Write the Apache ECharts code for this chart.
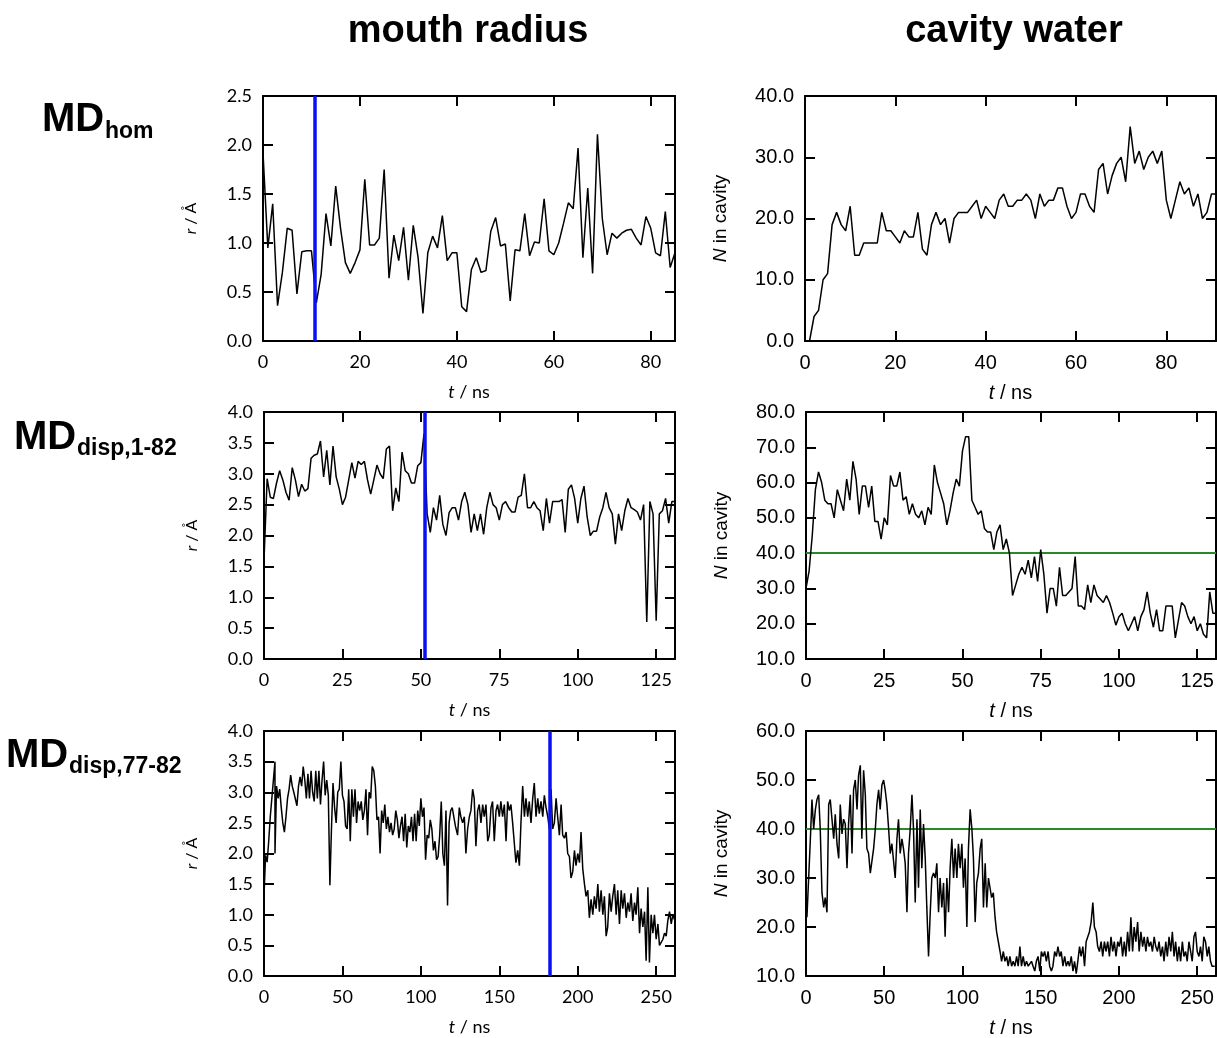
<!DOCTYPE html>
<html>
<head>
<meta charset="utf-8">
<script src="https://cdn.jsdelivr.net/npm/echarts@6/dist/echarts.min.js"></script>
<style>
  html, body { margin: 0; padding: 0; background: #fff; }
  #chart { width: 1217px; height: 1038px; }
</style>
</head>
<body>
<div id="chart"></div>
<script>
// ---------- data ----------
// MD_hom, mouth radius r (Å), one frame per ns starting at t = 0
const homRadius = [1.92,0.95,1.4,0.36,0.7,1.15,1.13,0.48,0.91,0.92,
  0.92,0.39,0.68,1.3,0.97,1.58,1.15,0.8,0.69,0.8,
  0.93,1.65,0.98,0.98,1.05,1.75,0.64,1.08,0.82,1.16,
  0.62,1.18,0.85,0.28,0.9,1.07,0.95,1.28,0.82,0.9,
  0.9,0.35,0.3,0.73,0.85,0.7,0.72,1.12,1.26,0.97,
  0.99,0.41,0.93,0.92,1.3,0.87,1.01,1.0,1.45,0.92,
  0.88,1.0,1.2,1.41,1.35,1.97,0.85,1.56,0.69,2.11,
  1.25,0.88,1.1,1.05,1.1,1.13,1.14,1.05,0.98,1.27,
  1.15,0.9,0.87,1.32,0.75,0.9];
const homRadiusStart = 0;

// MD_hom, water molecules in cavity, one frame per ns starting at t = 1
const homWater = [0,4,5,10,11,19,21,19,18,22,
  14,14,16,16,16,16,21,18,18,17,
  16,18,17,17,21,15,14,19,21,19,
  20,16,20,21,21,21,22,23,20,22,
  21,20,23,24,22,22,23,23,24,23,
  20,24,22,23,23,25,25,22,20,21,
  24,24,22,21,28,29,24,27,29,30,
  26,35,29,31,28,30,31,29,31,23,
  20,23,26,24,25,22,24,20,21,24,24];
const homWaterStart = 1;

// MD_disp,1-82, mouth radius, one frame per ns starting at t = 0
const disp182Radius = [1.6,2.92,2.62,2.6,2.85,3.05,2.9,2.7,2.57,3.1,
  2.9,2.63,2.83,2.72,2.76,3.25,3.3,3.32,3.53,2.95,
  3.38,2.82,3.45,2.95,2.75,2.5,2.62,2.9,3.18,2.93,
  3.2,3.15,3.2,2.9,2.67,2.9,3.14,3.0,2.92,3.4,
  3.45,2.4,2.77,2.55,3.35,3.05,3.0,2.85,2.85,3.13,
  3.18,3.65,2.35,2.05,2.45,2.25,2.65,2.18,2.0,2.37,
  2.45,2.45,2.25,2.55,2.7,2.5,2.05,2.35,2.08,2.35,
  2.02,2.45,2.7,2.5,2.45,2.25,2.5,2.55,2.45,2.38,
  2.38,2.62,2.65,3.0,2.45,2.45,2.55,2.45,2.4,2.08,
  2.6,2.2,2.55,2.55,2.55,2.58,2.05,2.75,2.82,2.6,
  2.2,2.6,2.8,2.3,2.0,2.07,2.07,2.3,2.45,2.7,
  2.45,2.35,1.86,2.35,2.08,2.4,2.6,2.45,2.42,2.38,
  2.25,2.5,0.6,2.55,2.35,0.62,2.35,2.4,2.6,2.2,
  2.55,2.55];
const disp182RadiusStart = 0;

// MD_disp,1-82, water molecules in cavity, one frame per ns starting at t = 0
const disp182Water = [30,35,45,58,63,60,55,54,54,50,
  58,55,52,61,55,66,61,51,59,59,
  53,59,49,49,44,50,48,62,59,59,
  63,55,56,51,54,51,50,52,48,53,
  51,65,60,57,54,48,52,57,61,59,
  69,73,73,55,53,51,52,47,46,46,
  41,46,48,41,44,40,28,31,34,36,
  34,38,33,39,32,41,34,23,30,30,
  25,36,28,28,29,30,39,25,25,24,
  31,26,31,28,27,26,28,26,23,19.6,
  22,23,20,18,20,22,18,22,24,29,
  23,19,24,18,18,25,25,25,16,21,
  26,25,22,20,22,18,20,17,16,29,
  23,23];
const disp182WaterStart = 0;

// MD_disp,77-82, mouth radius as [t (ns), r (Å)]
const disp7782Radius = [[0,1.3],[1,1.97],[2,1.86],[3,2.2],[4,2.6],[5,2.9],[6,3.2],[7,3.5],[7,2.0],[8,3.1],[9,2.9],
  [10,3.05],[11,2.75],[12,2.5],[13,2.35],[14,2.6],[15,2.9],[16,3.05],[17,3.28],[18,3.1],[19,3.0],
  [20,3.0],[21,2.78],[22,3.1],[23,3.25],[24,3.1],[25,3.42],[26,3.2],[27,2.9],[28,3.3],[29,2.9],
  [30,3.35],[31,3.0],[32,2.85],[33,3.35],[34,2.9],[35,3.35],[36,2.8],[37,3.2],[38,3.5],[39,2.95],
  [40,3.2],[41,2.95],[42,1.48],[43,2.4],[44,3.15],[45,2.75],[46,2.5],[47,3.0],[48,3.05],[49,3.5],
  [50,2.95],[51,2.85],[52,2.45],[53,2.4],[54,3.05],[55,2.2],[56,3.05],[57,2.6],[58,3.05],[59,2.5],
  [60,2.85],[61,2.7],[62,2.85],[63,2.55],[64,2.7],[65,3.05],[66,2.3],[67,3.0],[68,2.9],[69,3.42],
  [70,3.35],[71,3.1],[72,2.55],[73,2.6],[74,2.0],[75,2.7],[76,2.5],[77,2.8],[78,2.4],[79,2.6],
  [80,2.35],[81,2.5],[82,2.3],[83,2.4],[84,2.7],[85,2.55],[86,2.25],[87,2.45],[88,2.6],[89,2.2],
  [90,2.65],[91,2.1],[92,2.45],[93,2.35],[94,2.6],[95,2.2],[96,2.65],[97,2.2],[98,2.7],[99,2.45],
  [100,2.9],[101,2.6],[102,2.75],[103,1.9],[104,2.3],[105,2.25],[106,2.55],[107,2.4],[108,2.05],[109,2.2],
  [110,1.9],[111,1.95],[112,2.3],[113,2.85],[114,2.0],[115,1.8],[116,2.7],[117,1.15],[118,2.5],[119,2.7],
  [120,2.75],[122,2.45],[123.4,2.3],[124.5,2.75],[125.5,2.6],[126.6,2.5],[127.7,2.6],[128.7,2.0],[129.8,2.4],
  [130.9,2.6],[131.9,2.7],[133,3.05],[134,2.9],[135.1,2.12],[136.2,2.7],[137.2,2.8],[138.3,2.5],[139.4,2.8],
  [140.4,2.6],[141.5,2.8],[142.6,2.2],[143.6,2.3],[144.7,2.75],[145.7,2.85],[146.8,2.2],[147.9,2.7],[148.9,2.8],
  [150,2.6],[151,2.85],[152.1,2.6],[153.2,2.8],[154.3,2.2],[155.3,2.85],[156.4,2.7],[157.4,2.8],[158.5,2.5],
  [159.6,2.5],[160.6,1.85],[161.7,2.05],[162.8,1.8],[163.8,2.5],[164.9,3.1],[166,2.6],[167,2.9],[168.1,2.6],
  [169.1,2.85],[170.2,2.5],[171.3,2.9],[172.3,3.15],[173.4,2.6],[174.5,2.9],[175.5,2.65],[176.6,2.85],[177.7,2.6],
  [178.7,2.95],[179.8,2.75],[180.9,2.6],[181.9,2.4],[183,3.05],[184,2.4],[185.1,2.5],[186.2,2.9],[187.2,2.6],
  [188.3,2.3],[189.4,2.8],[190.4,2.3],[191.5,2.25],[192.6,2.35],[193.6,2.0],[194.7,1.95],[195.7,1.6],[196.8,1.7],
  [197.9,2.05],[198.9,1.8],[200,2.0],[201.1,1.85],[202.1,2.35],[203.2,1.75],[204.3,1.5],[205.3,1.3],[206.4,1.4],
  [207.4,0.95],[208.5,1.25],[209.6,1.0],[210.6,1.3],[211.7,1.1],[212.8,1.5],[213.8,1.05],[214.9,1.4],[216,1.0],
  [217,1.3],[218.1,0.65],[219.1,0.8],[220.2,1.35],[221.3,1.05],[222.3,1.3],[223.4,1.5],[224.5,1.0],[225.5,1.4],
  [226.6,0.85],[227.7,1.4],[228.7,1.1],[229.8,1.35],[230.9,0.95],[231.9,1.2],[233,1.05],[234,1.35],[235.1,0.9],
  [236.2,1.2],[237.2,1.0],[238.3,1.45],[239.4,0.7],[240.4,1.1],[241.5,0.8],[242.6,1.05],[243.6,0.25],[244.7,1.45],
  [245.7,0.22],[246.8,1.0],[247.9,0.7],[248.9,1.0],[250,0.6],[251.1,0.85],[252.1,0.5],[253.2,0.5],[254.3,0.6],
  [255.3,0.7],[256.4,0.65],[257.4,0.9],[258.5,1.05],[259.6,0.85],[260.6,1.0],[262,0.9]];

// MD_disp,77-82, water molecules in cavity as [t (ns), N]
const disp7782Water = [[0,25],[0.6,22],[1.7,22],[2.8,38],[3.8,46],[4.9,40],[6,44],[7,46],[8.1,47],[9.1,40],
  [10.2,27],[11.3,24],[12.3,26],[13.4,23],[14.5,45],[15.5,46],[16.6,46],[17.7,38],[18.7,43],[19.8,37],
  [20.9,34],[21.9,45],[23,39],[24,42],[25.1,41],[26.2,32],[27.2,41],[28.3,47],[29.4,35],[30.4,48],
  [31.5,50],[32.6,44],[33.6,51],[34.7,53],[35.7,38],[36.8,52],[37.9,47],[38.9,36],[40,35],[41.1,31],
  [42.1,31],[43.2,36],[44.3,40],[45.3,45],[46.4,48],[47.4,44],[48.5,49],[49.6,50],[50.6,48],[51.7,45],
  [52.8,40],[53.8,35],[54.9,37],[56,37],[57,30],[58.1,38],[59.1,42],[60.2,35],[61.3,38],[62.3,36],
  [63.4,33],[64.5,23],[65.5,35],[66.6,40],[67.7,47],[68.7,40],[69.8,25],[70.9,42],[71.9,28],[73,44],
  [74,32],[75.1,41],[76.2,34],[77.2,24],[78.3,14],[79.4,23],[80.4,30],[81.5,31],[82.6,30],[83.6,33],
  [84.7,23],[85.7,30],[86.8,24],[87.9,29],[88.9,18],[90,30],[91.1,23],[92.1,32],[93.2,38],[94.3,30],
  [95.3,36],[96.4,30],[97.4,37],[98.5,32],[99.6,37],[100.6,28],[101.7,34],[102.8,20],[103.8,36],[104.9,44],
  [106,40],[107,34],[108.1,21],[109.1,29],[110.2,31],[111.3,36],[112.3,38],[113.4,24],[114.5,33],[115.5,24],
  [116.6,30],[117.6,30],[118.6,26],[119.7,27],[120.8,22],[121.8,19],[122.9,17],[124,15],[125,13],[126.1,15],
  [127.1,13],[128.2,14],[129.2,12],[130.3,14],[131.4,12],[132.4,13],[133.5,12],[134.6,14],[135.6,12],[136.7,16],
  [137.7,12],[138.8,14],[139.8,12],[140.9,13],[142,12],[143,12],[144.1,13],[145.1,12],[146.2,11],[147.2,13],
  [148.3,14],[149.4,11],[150.4,15],[151.5,14],[152.5,15],[153.6,13],[154.7,15],[155.7,12],[156.8,11],[157.8,12],
  [158.9,15],[160,14],[161,16],[162.1,14],[163.1,15],[164.2,12],[165.3,14],[166.3,12],[167.4,13],[168.4,12],
  [169.5,14],[170.6,11],[171.6,13],[172.7,10.5],[173.7,13],[174.8,16],[175.8,14],[176.9,16],[178,12],[179,17],
  [180.1,17],[181.1,19],[182.2,21],[183.3,25],[184.3,20],[185.4,19],[186.4,16],[187.5,15],[188.6,17],[189.6,14],
  [190.7,17],[191.7,15],[192.8,17],[193.9,14],[194.9,18],[196,15],[197,17],[198.1,14],[199.2,17],[200.2,16],
  [201.3,18],[202.3,14],[203.4,17],[204.4,14],[205.5,19],[206.6,15],[207.6,22],[208.7,15],[209.7,20],[210.8,17],
  [211.9,21],[212.9,15],[214,19],[215.1,16],[216.1,18],[217.2,15],[218.2,18],[219.3,16],[220.3,17],[221.4,15],
  [222.5,18],[223.5,16],[224.6,15],[225.6,17],[226.7,14],[227.8,16],[228.8,13],[229.9,17],[230.9,14],[232,18],
  [233.1,15],[234.1,19],[235.2,14],[236.2,17],[237.3,13],[238.3,16],[239.4,13],[240.5,17],[241.5,14],[242.6,15],
  [243.6,13],[244.7,17],[245.8,15],[246.8,13],[247.9,18],[248.9,19],[250,15],[251.1,14],[252.1,16],[253.2,13],
  [254.2,18],[255.3,17],[256.4,14],[257.4,16],[258.5,13],[259.5,12],[261.2,12]];

// marked time points (ns) and the water threshold
const markedTimes = { hom: 10.6, disp182: 51.1, disp7782: 181.9 };
const waterThreshold = 40;

// column headings and row labels
const columnTitles = ['mouth radius', 'cavity water'];
const rowLabels = [['MD', 'hom'], ['MD', 'disp,1-82'], ['MD', 'disp,77-82']];

// ---------- layout ----------
const LEFT_FONT = 'Lato, "Open Sans", sans-serif';
const RIGHT_FONT = '"Liberation Sans", Arial, sans-serif';

const panels = [
  { grid: { left: 263, top: 96, width: 412, height: 245 }, font: LEFT_FONT, fs: 18, nfs: 16,
    x: [0, 85, 20], y: [0, 2.5, 0.5], yName: '{i|r} / Å', yGap: 64,
    data: homRadius.map((v, i) => [homRadiusStart + i, v]), vline: markedTimes.hom },
  { grid: { left: 805, top: 96, width: 411, height: 245 }, font: RIGHT_FONT, fs: 20, nfs: 19,
    x: [0, 91, 20], y: [0, 40, 10], yName: '{i|N} in cavity', yGap: 75,
    data: homWater.map((v, i) => [homWaterStart + i, v]) },
  { grid: { left: 264, top: 412, width: 411, height: 247 }, font: LEFT_FONT, fs: 18, nfs: 16,
    x: [0, 131, 25], y: [0, 4, 0.5], yName: '{i|r} / Å', yGap: 64,
    data: disp182Radius.map((v, i) => [disp182RadiusStart + i, v]), vline: markedTimes.disp182 },
  { grid: { left: 806, top: 412, width: 410, height: 247 }, font: RIGHT_FONT, fs: 20, nfs: 19,
    x: [0, 131, 25], y: [10, 80, 10], yName: '{i|N} in cavity', yGap: 75,
    data: disp182Water.map((v, i) => [disp182WaterStart + i, v]), hline: waterThreshold },
  { grid: { left: 264, top: 731, width: 411, height: 245 }, font: LEFT_FONT, fs: 18, nfs: 16,
    x: [0, 262, 50], y: [0, 4, 0.5], yName: '{i|r} / Å', yGap: 64,
    data: disp7782Radius, vline: markedTimes.disp7782 },
  { grid: { left: 806, top: 731, width: 410, height: 245 }, font: RIGHT_FONT, fs: 20, nfs: 19,
    x: [0, 262, 50], y: [10, 60, 10], yName: '{i|N} in cavity', yGap: 75,
    data: disp7782Water, hline: waterThreshold }
];

const AXIS_LINE = { show: true, onZero: false, lineStyle: { color: '#000', width: 2 } };
const TICK = { show: true, inside: true, length: 10, lineStyle: { color: '#000', width: 2 } };

const grids = [], xAxes = [], yAxes = [], series = [];

panels.forEach((p, k) => {
  grids.push(Object.assign({ outerBoundsMode: 'none', containLabel: false }, p.grid));
  const [xmin, xmax, xint] = p.x;
  const [ymin, ymax, yint] = p.y;
  const labelBase = { color: '#000', fontFamily: p.font, fontSize: p.fs };
  const nameBase = { color: '#000', fontFamily: p.font, fontSize: p.nfs };

  // bottom axis with labels and name
  xAxes.push({
    type: 'value', gridIndex: k, position: 'bottom', min: xmin, max: xmax, interval: xint,
    axisLine: AXIS_LINE, axisTick: TICK, splitLine: { show: false },
    axisLabel: Object.assign({ margin: 12, showMaxLabel: false,
      formatter: v => (Math.abs(v / xint - Math.round(v / xint)) < 1e-6 ? String(v) : '') }, labelBase),
    name: '{i|t} / ns', nameLocation: 'middle', nameGap: 42,
    nameTextStyle: Object.assign({ rich: { i: Object.assign({ fontStyle: 'italic' }, labelBase) } }, labelBase)
  });
  // mirrored top axis (ticks only)
  xAxes.push({
    type: 'value', gridIndex: k, position: 'top', min: xmin, max: xmax, interval: xint,
    axisLine: AXIS_LINE, axisTick: TICK, splitLine: { show: false }, axisLabel: { show: false }
  });
  // left axis with labels and name
  yAxes.push({
    type: 'value', gridIndex: k, position: 'left', min: ymin, max: ymax, interval: yint,
    axisLine: AXIS_LINE, axisTick: TICK, splitLine: { show: false },
    axisLabel: Object.assign({ margin: 11, formatter: v => v.toFixed(1) }, labelBase),
    name: p.yName, nameLocation: 'middle', nameGap: p.yGap, nameRotate: 90,
    nameTextStyle: Object.assign({ rich: { i: Object.assign({ fontStyle: 'italic' }, nameBase) } }, nameBase)
  });
  // mirrored right axis (ticks only)
  yAxes.push({
    type: 'value', gridIndex: k, position: 'right', min: ymin, max: ymax, interval: yint,
    axisLine: AXIS_LINE, axisTick: TICK, splitLine: { show: false }, axisLabel: { show: false }
  });

  const s = {
    type: 'line', xAxisIndex: 2 * k, yAxisIndex: 2 * k, data: p.data,
    showSymbol: false, symbol: 'none', smooth: false, silent: true, clip: true,
    lineStyle: { color: '#000', width: 1.5 }, z: 2
  };
  if (p.vline !== undefined) {
    s.markLine = { silent: true, symbol: 'none', label: { show: false }, z: 3,
      lineStyle: { color: '#0a10f5', width: 3.5, type: 'solid' }, data: [{ xAxis: p.vline }] };
  }
  if (p.hline !== undefined) {
    s.markLine = { silent: true, symbol: 'none', label: { show: false }, z: 1,
      lineStyle: { color: '#278a27', width: 1.8, type: 'solid' }, data: [{ yAxis: p.hline }] };
  }
  series.push(s);
});

// headings and row labels
const HEAD_FONT = '"Liberation Sans", Arial, sans-serif';
const graphics = [
  { type: 'text', style: { text: columnTitles[0], x: 468, y: 32, align: 'center', verticalAlign: 'middle',
    font: 'bold 38px ' + HEAD_FONT, fill: '#000' } },
  { type: 'text', style: { text: columnTitles[1], x: 1014, y: 32, align: 'center', verticalAlign: 'middle',
    font: 'bold 38px ' + HEAD_FONT, fill: '#000' } }
];
// [left x, top of "MD", top of subscript]
const rowPos = [[42, 100, 120], [14, 418, 437], [6, 736, 755]];
rowLabels.forEach((lab, i) => {
  const [x, topMain, topSub] = rowPos[i];
  graphics.push({ type: 'text', style: { text: lab[0], x: x, y: topMain, align: 'left', verticalAlign: 'top',
    font: 'bold 40px ' + HEAD_FONT, fill: '#000' } });
  graphics.push({ type: 'text', style: { text: lab[1], x: x + 63, y: topSub, align: 'left', verticalAlign: 'top',
    font: 'bold 23px ' + HEAD_FONT, fill: '#000' } });
});

const chart = echarts.init(document.getElementById('chart'), null, { renderer: 'canvas' });
chart.setOption({
  animation: false,
  backgroundColor: '#fff',
  grid: grids,
  xAxis: xAxes,
  yAxis: yAxes,
  series: series,
  graphic: graphics
});
</script>
</body>
</html>
